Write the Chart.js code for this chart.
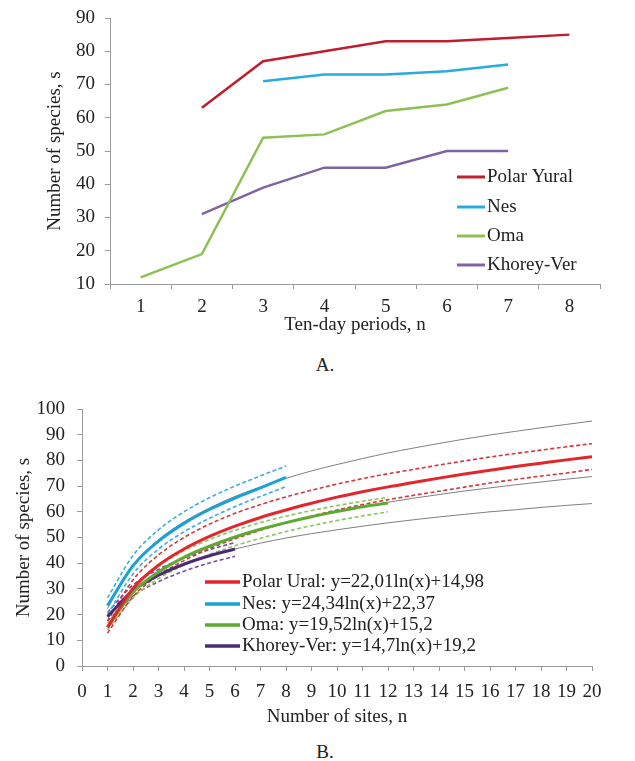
<!DOCTYPE html>
<html>
<head>
<meta charset="utf-8">
<script src="https://cdn.jsdelivr.net/npm/chart.js@4.4.1/dist/chart.umd.min.js"></script>
<style>
  body { margin: 0; background: #fff; width: 635px; height: 761px; position: relative; overflow: hidden; }
  .box { position: absolute; left: 0; width: 635px; }
  #boxA { top: 0; height: 345px; }
  #boxB { top: 380px; height: 360px; }
  .cap { position: absolute; left: 0; width: 650px; text-align: center; font: 19px "Liberation Serif", serif; line-height: 22px; color: #222; }
</style>
</head>
<body>
<div class="box" id="boxA"><canvas id="chartA"></canvas></div>
<div class="cap" style="top:354px">A.</div>
<div class="box" id="boxB"><canvas id="chartB"></canvas></div>
<div class="cap" style="top:741px">B.</div>

<script>
// --- A: species per ten-day period
const periods = ['1', '2', '3', '4', '5', '6', '7', '8'];
const polarYural = [null, 63, 77, 80, 83, 83, 84, 85];
const nesA = [null, null, 71, 73, 73, 74, 76, null];
const omaA = [12, 19, 54, 55, 62, 64, 69, null];
const khoreyA = [null, 31, 39, 45, 45, 50, 50, null];

// --- B: accumulation curves vs number of sites
const sites = [1, 2, 3, 4, 5, 6, 7, 8, 9, 10, 11, 12, 13, 14, 15, 16, 17, 18, 19, 20];
const polarUral = [15.0, 30.2, 39.2, 45.5, 50.4, 54.4, 57.8, 60.7, 63.3, 65.7, 67.8, 69.7, 71.4, 73.1, 74.7, 76.2, 77.6, 78.9, 80.2, 81.4];
const polarUp = [17.5, 33.5, 43.2, 50.0, 55.2, 59.4, 62.8, 65.8, 68.4, 70.8, 72.9, 74.8, 76.5, 78.2, 79.8, 81.3, 82.7, 84.0, 85.3, 86.5];
const polarLow = [12.8, 27.0, 35.3, 41.0, 45.7, 49.5, 52.8, 55.7, 58.3, 60.7, 62.8, 64.7, 66.4, 68.0, 69.6, 71.2, 72.6, 73.9, 75.1, 76.5];
const nesB = [23.5, 39.0, 48.6, 55.5, 60.9, 65.3, 69.3, 73.4];
const nesUp = [26.5, 43.0, 53.0, 60.0, 65.5, 70.0, 74.0, 77.8];
const nesLow = [20.0, 35.8, 45.5, 52.2, 57.5, 62.0, 66.0, 69.8];
const omaB = [15.2, 28.7, 36.6, 42.3, 46.6, 50.2, 53.2, 55.8, 58.1, 60.1, 62.0, 63.4];
const omaUp = [16.5, 30.5, 38.8, 44.8, 49.2, 52.8, 55.8, 58.3, 60.5, 62.4, 64.1, 65.6];
const omaLow = [14.0, 26.5, 34.0, 39.3, 43.4, 46.8, 49.7, 52.3, 54.6, 56.6, 58.4, 60.0];
const khoreyB = [19.2, 29.4, 35.3, 39.6, 42.9, 45.5];
const khoreyUp = [20.8, 31.5, 37.6, 42.0, 45.3, 48.0];
const khoreyLow = [17.5, 27.2, 32.8, 36.9, 40.1, 42.7];
// grey fitted curves over the whole range
const nesFit = [22.4, 39.2, 49.1, 56.1, 61.5, 66.0, 69.7, 73.0, 75.9, 78.4, 80.7, 82.9, 84.8, 86.6, 88.3, 89.9, 91.3, 92.7, 94.0, 95.3];
const omaFit = [15.2, 28.7, 36.6, 42.3, 46.6, 50.2, 53.2, 55.8, 58.1, 60.1, 62.0, 63.7, 65.3, 66.7, 68.1, 69.3, 70.5, 71.6, 72.7, 73.7];
const khoreyFit = [19.2, 29.4, 35.3, 39.6, 42.9, 45.5, 47.8, 49.8, 51.5, 53.0, 54.4, 55.7, 56.9, 58.0, 59.0, 60.0, 60.8, 61.7, 62.5, 63.2];

const axisColor = '#9a9a9a';
Chart.defaults.font.family = '"Liberation Serif", "Times New Roman", serif';
Chart.defaults.font.size = 19;
Chart.defaults.color = '#222';

function pts(ys) {
    return ys.map(function(y, i) { return {x: sites[i], y: y}; });
}
function fixWidth(w) {
    return function(scale) { scale.width = w; scale.paddingTop = 0; scale.paddingBottom = 0; };
}
function fixHeight(h) {
    return function(scale) { scale.height = h; scale.paddingLeft = 0; scale.paddingRight = 0; };
}

// legend drawn inside the plot area
const legendLines = {
    id: 'legendLines',
    afterDatasetsDraw(chart, args, opts) {
        const ctx = chart.ctx;
        ctx.save();
        ctx.font = '19px "Liberation Serif", serif';
        ctx.textBaseline = 'middle';
        opts.items.forEach(function(idx, i) {
            const ds = chart.data.datasets[idx];
            const y = opts.y[i];
            ctx.strokeStyle = ds.borderColor;
            ctx.lineWidth = opts.lineWidth;
            ctx.beginPath();
            ctx.moveTo(opts.x0, y);
            ctx.lineTo(opts.x1, y);
            ctx.stroke();
            ctx.fillStyle = '#222';
            ctx.fillText(ds.label, opts.x1 + 2, y);
        });
        ctx.restore();
    }
};

function lineA(label, data, color) {
    return { label: label, data: data, borderColor: color, borderWidth: 2.5, pointRadius: 0, tension: 0, spanGaps: false };
}

new Chart(document.getElementById('chartA'), {
    type: 'line',
    data: {
        labels: periods,
        datasets: [
            lineA('Polar Yural', polarYural, '#BE1E2D'),
            lineA('Nes', nesA, '#29ABE2'),
            lineA('Oma', omaA, '#8DC153'),
            lineA('Khorey-Ver', khoreyA, '#8064A2')
        ]
    },
    options: {
        responsive: true,
        maintainAspectRatio: false,
        animation: false,
        layout: { padding: { left: 0, right: 35, top: 18, bottom: 0 } },
        plugins: {
            legend: { display: false },
            tooltip: { enabled: false },
            legendLines: { items: [0, 1, 2, 3], x0: 457, x1: 485, y: [177, 207, 236, 265], lineWidth: 3 }
        },
        scales: {
            x: {
                offset: true,
                grid: { offset: true, drawOnChartArea: false, tickLength: 5, color: axisColor },
                border: { color: axisColor },
                ticks: { padding: 7, maxRotation: 0, autoSkip: false },
                title: { display: true, text: 'Ten-day periods, n', padding: { top: 0, bottom: 9 } },
                afterFit: fixHeight(61)
            },
            y: {
                min: 10,
                max: 90,
                ticks: { stepSize: 10, padding: 10, autoSkip: false },
                grid: { drawOnChartArea: false, tickLength: 5, color: axisColor },
                border: { color: axisColor },
                title: { display: true, text: 'Number of species, s', padding: { top: 44, bottom: 0 } },
                afterFit: fixWidth(110)
            }
        }
    },
    plugins: [legendLines]
});

function solid(label, data, color) {
    return { label: label, data: pts(data), borderColor: color, borderWidth: 3, pointRadius: 0, cubicInterpolationMode: 'monotone' };
}
function dashed(data, color) {
    return { label: '', data: pts(data), borderColor: color, borderWidth: 1.6, borderDash: [4, 2.5], pointRadius: 0, cubicInterpolationMode: 'monotone' };
}
function grey(data) {
    return { label: '', data: pts(data), borderColor: '#7f7f7f', borderWidth: 1, pointRadius: 0, cubicInterpolationMode: 'monotone' };
}

new Chart(document.getElementById('chartB'), {
    type: 'line',
    data: {
        datasets: [
            solid('Polar Ural: y=22,01ln(x)+14,98', polarUral, '#E3262B'),
            solid('Nes: y=24,34ln(x)+22,37', nesB, '#1AA2D8'),
            solid('Oma: y=19,52ln(x)+15,2', omaB, '#5DAA32'),
            solid('Khorey-Ver: y=14,7ln(x)+19,2', khoreyB, '#4B2C74'),
            dashed(polarUp, '#D9353A'),
            dashed(polarLow, '#D9353A'),
            dashed(nesUp, '#3AAFDD'),
            dashed(nesLow, '#3AAFDD'),
            dashed(omaUp, '#8CC75A'),
            dashed(omaLow, '#8CC75A'),
            dashed(khoreyUp, '#7A4FA0'),
            dashed(khoreyLow, '#7A4FA0'),
            grey(nesFit),
            grey(omaFit),
            grey(khoreyFit)
        ]
    },
    options: {
        responsive: true,
        maintainAspectRatio: false,
        animation: false,
        layout: { padding: { left: 0, right: 43, top: 29, bottom: 0 } },
        plugins: {
            legend: { display: false },
            tooltip: { enabled: false },
            legendLines: { items: [0, 1, 2, 3], x0: 205, x1: 240, y: [202, 224, 245, 266], lineWidth: 3.5 }
        },
        scales: {
            x: {
                type: 'linear',
                min: 0,
                max: 20,
                ticks: { stepSize: 1, autoSkip: false, maxRotation: 0, padding: 10 },
                grid: { drawOnChartArea: false, tickLength: 5, color: axisColor },
                border: { color: axisColor },
                title: { display: true, text: 'Number of sites, n', padding: { top: 0, bottom: 12 } },
                afterFit: fixHeight(74)
            },
            y: {
                min: 0,
                max: 100,
                ticks: { stepSize: 10, padding: 12, autoSkip: false },
                grid: { drawOnChartArea: false, tickLength: 5, color: axisColor },
                border: { color: axisColor },
                title: { display: true, text: 'Number of species, s', padding: { top: 13, bottom: 0 } },
                afterFit: fixWidth(82)
            }
        }
    },
    plugins: [legendLines]
});
</script>
</body>
</html>
